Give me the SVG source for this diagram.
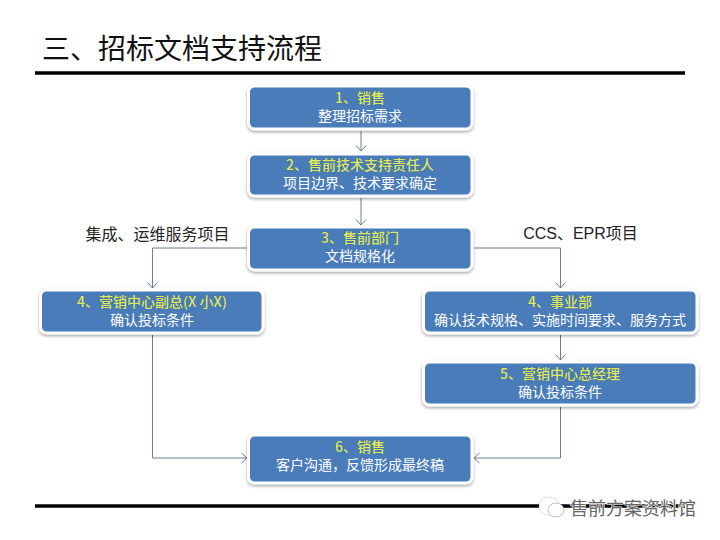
<svg xmlns="http://www.w3.org/2000/svg" width="720" height="540" viewBox="0 0 720 540">
<style>
text{font-family:"Noto Sans CJK SC","Liberation Sans",sans-serif;text-anchor:middle}
.box{fill:#4a7cb8;stroke:#fff;stroke-width:3;filter:url(#sh)}
.h{font-size:14px;font-weight:500;fill:#dfea62;stroke:#3a6496;stroke-width:.5px;paint-order:stroke}
.b{font-size:14px;fill:#fff}
.lab{font-size:16px;fill:#222}
.rule{stroke:#000;stroke-width:3.5;fill:none}
.c{fill:none;stroke:#6d7c90;stroke-width:1;marker-end:url(#a)}
</style>
<defs>
<filter id="sh" x="-10%" y="-20%" width="120%" height="145%"><feDropShadow dx="0" dy="1.5" stdDeviation="1.8" flood-color="#000" flood-opacity=".38"/></filter>
<marker id="a" markerUnits="userSpaceOnUse" markerWidth="12" markerHeight="12" refX="9" refY="6" orient="auto"><path d="M3.500 1 L9 6 L3.500 11" fill="none" stroke="#6d7c90" stroke-width="1"/></marker>
</defs>
<rect width="720" height="540" fill="#fff"/>
<text x="183" y="59" style="font-size:28px;fill:#111" dx="-1">三、招标文档支持流程</text>
<path class="rule" d="M35 73H685"/>
<path class="rule" d="M35 506H685"/>
<g id="connectors">
<path class="c" d="M361 131V151"/>
<path class="c" d="M361 198V225"/>
<path class="c" d="M247 248H152.500V288"/>
<path class="c" d="M474 248H560.500V288"/>
<path class="c" d="M560.500 335V360"/>
<path class="c" d="M560.500 407V458H474"/>
<path class="c" d="M152.500 335V458H247"/>
</g>
<g id="n1"><rect class="box" x="248.500" y="86" width="223.500" height="43" rx="6"/><text class="h" x="360" y="103">1、销售</text><text class="b" x="360" y="121">整理招标需求</text></g>
<g id="n2"><rect class="box" x="248.500" y="154" width="223.500" height="42" rx="6"/><text class="h" x="360" y="170">2、售前技术支持责任人</text><text class="b" x="360" y="188">项目边界、技术要求确定</text></g>
<g id="n3"><rect class="box" x="248.500" y="227" width="223.500" height="43" rx="6"/><text class="h" x="360" y="243">3、售前部门</text><text class="b" x="360" y="261">文档规格化</text></g>
<g id="n4a"><rect class="box" x="40.500" y="290" width="222.500" height="43" rx="6"/><text class="h" x="152" y="307">4、营销中心副总(X 小X)</text><text class="b" x="152" y="325">确认投标条件</text></g>
<g id="n4b"><rect class="box" x="423.500" y="290" width="273.500" height="43" rx="6"/><text class="h" x="560" y="307">4、事业部</text><text class="b" x="560" y="325">确认技术规格、实施时间要求、服务方式</text></g>
<g id="n5"><rect class="box" x="423.500" y="362" width="273.500" height="43" rx="6"/><text class="h" x="560" y="379">5、营销中心总经理</text><text class="b" x="560" y="397">确认投标条件</text></g>
<g id="n6"><rect class="box" x="248.500" y="435" width="223.500" height="48" rx="6"/><text class="h" x="360" y="452">6、销售</text><text class="b" x="360" y="470">客户沟通，反馈形成最终稿</text></g>
<text class="lab" x="157.500" y="240">集成、运维服务项目</text>
<text class="lab" x="580.500" y="239" style="font-family:'Liberation Sans','Noto Sans CJK SC',sans-serif">CCS、EPR项目</text>
<g id="watermark">
<ellipse cx="549" cy="506" rx="10" ry="9" fill="#fff" stroke="#aaa" stroke-width=".6" stroke-dasharray="2 1.500"/>
<ellipse cx="556" cy="510" rx="8" ry="7" fill="#fff" stroke="#999" stroke-width=".6"/>
<text x="633" y="515" style="font-size:18px;fill:#666;stroke:#fff;stroke-width:1.200px;paint-order:stroke">售前方案资料馆</text>
</g>
</svg>
